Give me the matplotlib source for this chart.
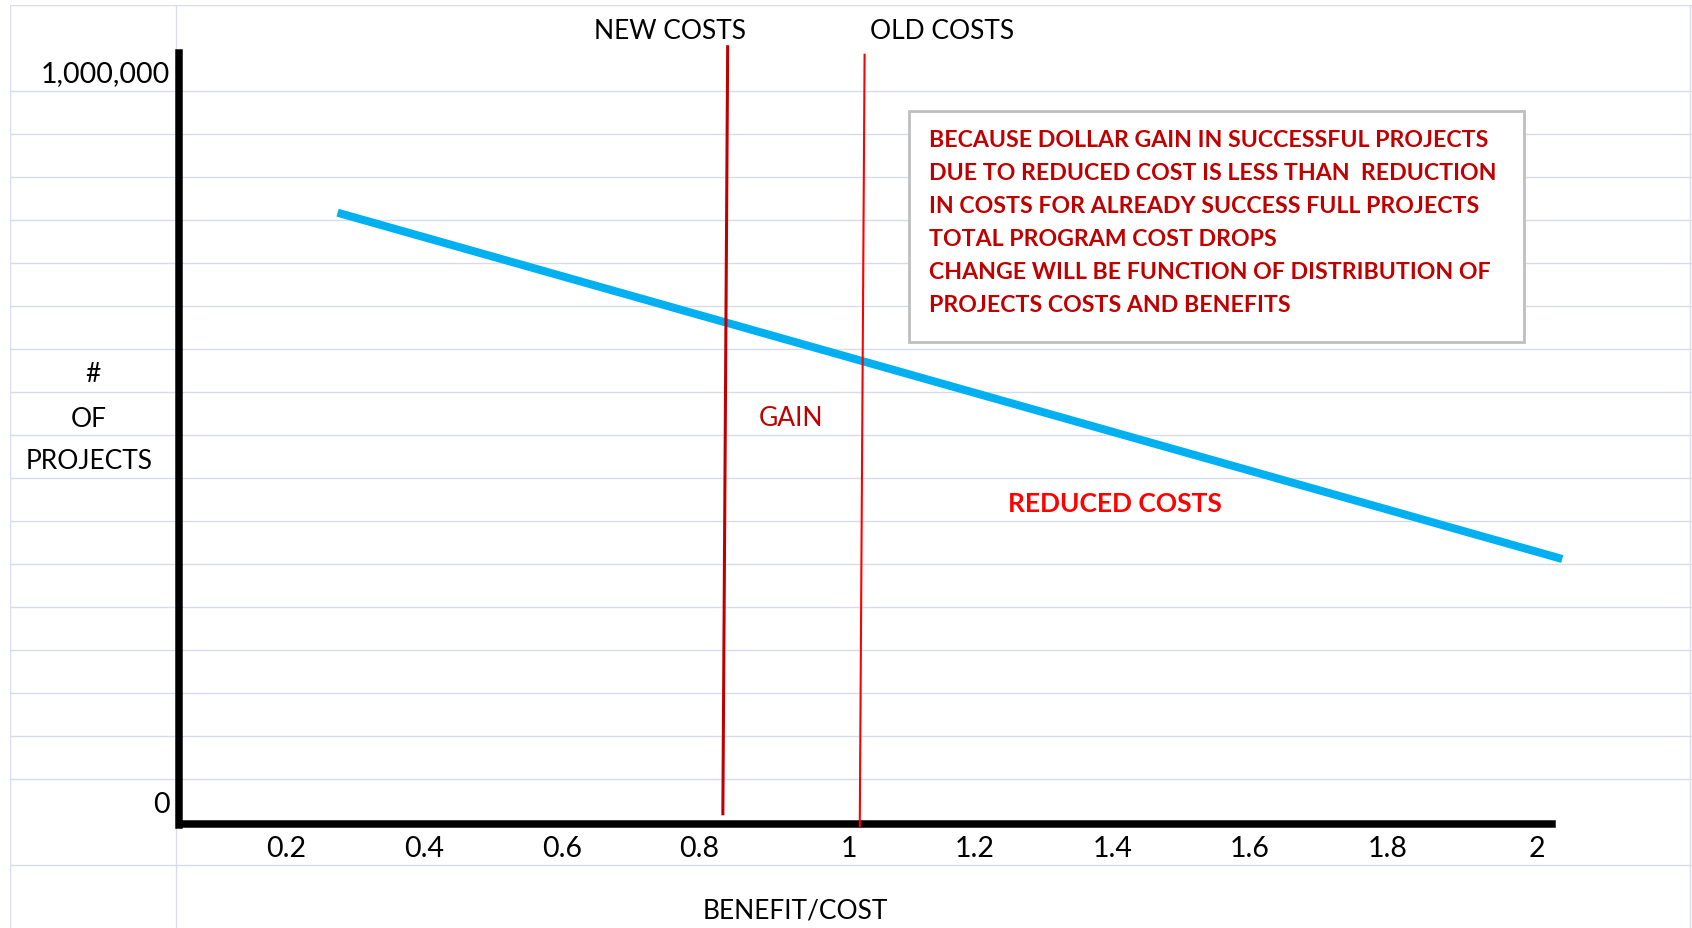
import matplotlib
matplotlib.use('Agg')
import matplotlib.pyplot as plt
import matplotlib.transforms as mtransforms
from matplotlib.patches import Rectangle
import numpy as np

plt.rcParams['font.family'] = ['Lato', 'DejaVu Sans']

# projects vs benefit/cost (sketch values)
bc_x = [0.235, 2.015]
bc_projects = [787600, 340200]

# cost cut-off lines
new_costs_x = [0.802, 0.795]
new_costs_y = [1002000, 11000]
old_costs_x = [1.001, 0.994]
old_costs_y = [991700, -4800]

x_ticks = [0.2, 0.4, 0.6, 0.8, 1.0, 1.2, 1.4, 1.6, 1.8, 2.0]
x_tick_labels = ['0.2', '0.4', '0.6', '0.8', '1', '1.2', '1.4', '1.6', '1.8', '2']
y_ticks = [0, 1000000]
y_tick_labels = ['0', '1,000,000']

note_lines = ['BECAUSE DOLLAR GAIN IN SUCCESSFUL PROJECTS',
              'DUE TO REDUCED COST IS LESS THAN  REDUCTION',
              'IN COSTS FOR ALREADY SUCCESS FULL PROJECTS',
              'TOTAL PROGRAM COST DROPS',
              'CHANGE WILL BE FUNCTION OF DISTRIBUTION OF',
              'PROJECTS COSTS AND BENEFITS']

fig = plt.figure(figsize=(16.92, 9.29), dpi=100)
ax = fig.add_axes([10 / 1692, 0, 1682 / 1692, 922.7 / 929])
ax.set_xlim(-0.2411, 2.2036)
ax.set_ylim(-136563, 1055556)

# spreadsheet grid
ax.set_xticks(np.r_[-0.2411, np.arange(0, 2.21, 0.2)], minor=True)
ax.set_yticks(np.arange(-1, 20) * 1e6 / 18, minor=True)
ax.grid(which='minor', color='#d9dce8', lw=1.0)
ax.set_axisbelow(True)
ax.tick_params(which='both', length=0)

for s in ['top', 'right']:
    ax.spines[s].set_visible(False)
ax.spines['left'].set_position(('data', 0.004))
ax.spines['left'].set_bounds(-3000, 994000)
ax.spines['bottom'].set_position(('data', -2500))
ax.spines['bottom'].set_bounds(0.006, 2.0)
for s in ['left', 'bottom']:
    ax.spines[s].set_linewidth(5.4)
    ax.spines[s].set_color('black')

ax.set_xticks(x_ticks, x_tick_labels, fontsize=20.5)
ax.set_yticks(y_ticks, y_tick_labels, fontsize=20.5)
ax.tick_params(axis='x', pad=7.5)
ax.tick_params(axis='y', pad=6.5)
shift_left = mtransforms.ScaledTranslation(-0.07, 0, fig.dpi_scale_trans)
for lab in ax.get_xticklabels():
    lab.set_ha('right')
    lab.set_transform(lab.get_transform() + shift_left)
ylabs = ax.get_yticklabels()
ylabs[0].set_va('baseline')
ylabs[0].set_transform(ylabs[0].get_transform() + mtransforms.ScaledTranslation(0, 0.108, fig.dpi_scale_trans))
ylabs[1].set_va('baseline')
ylabs[1].set_transform(ylabs[1].get_transform() + mtransforms.ScaledTranslation(0, -0.325, fig.dpi_scale_trans))

ax.plot(bc_x, bc_projects, color='#00b0f0', lw=5.8, solid_capstyle='butt', zorder=3)
ax.plot(new_costs_x, new_costs_y, color='#c00000', lw=2.2, zorder=4)
ax.plot(old_costs_x, old_costs_y, color='#ff0000', lw=1.5, zorder=4)

ax.text(0.718, 1013300, 'NEW COSTS', fontsize=19, ha='center', va='baseline')
ax.text(1.0089, 1013300, 'OLD COSTS', fontsize=19, ha='left', va='baseline')
ax.text(-0.1208, 569600, '#', fontsize=19, ha='center', va='baseline')
ax.text(-0.1263, 512000, 'OF', fontsize=19, ha='center', va='baseline')
ax.text(-0.1263, 457800, 'PROJECTS', fontsize=19, ha='center', va='baseline')
ax.text(0.894, 513700, 'GAIN', fontsize=19, ha='center', va='baseline', color='#c00000')
ax.text(1.3645, 402600, 'REDUCED COSTS', fontsize=19, ha='center', va='baseline',
        color='#ff0000', fontweight='bold')
ax.text(0.8996, -123600, 'BENEFIT/COST', fontsize=19, ha='center', va='baseline')

ax.add_patch(Rectangle((1.065, 620300), 0.894, 299300, facecolor='white',
                       edgecolor='#bfbfbf', lw=2, zorder=5))
for i, line in enumerate(note_lines):
    ax.text(1.0945, 874000 - i * 42636, line, fontsize=16.7, fontweight='bold',
            color='#c00000', ha='left', va='baseline', zorder=6)

fig.savefig('out.png', dpi=100)
